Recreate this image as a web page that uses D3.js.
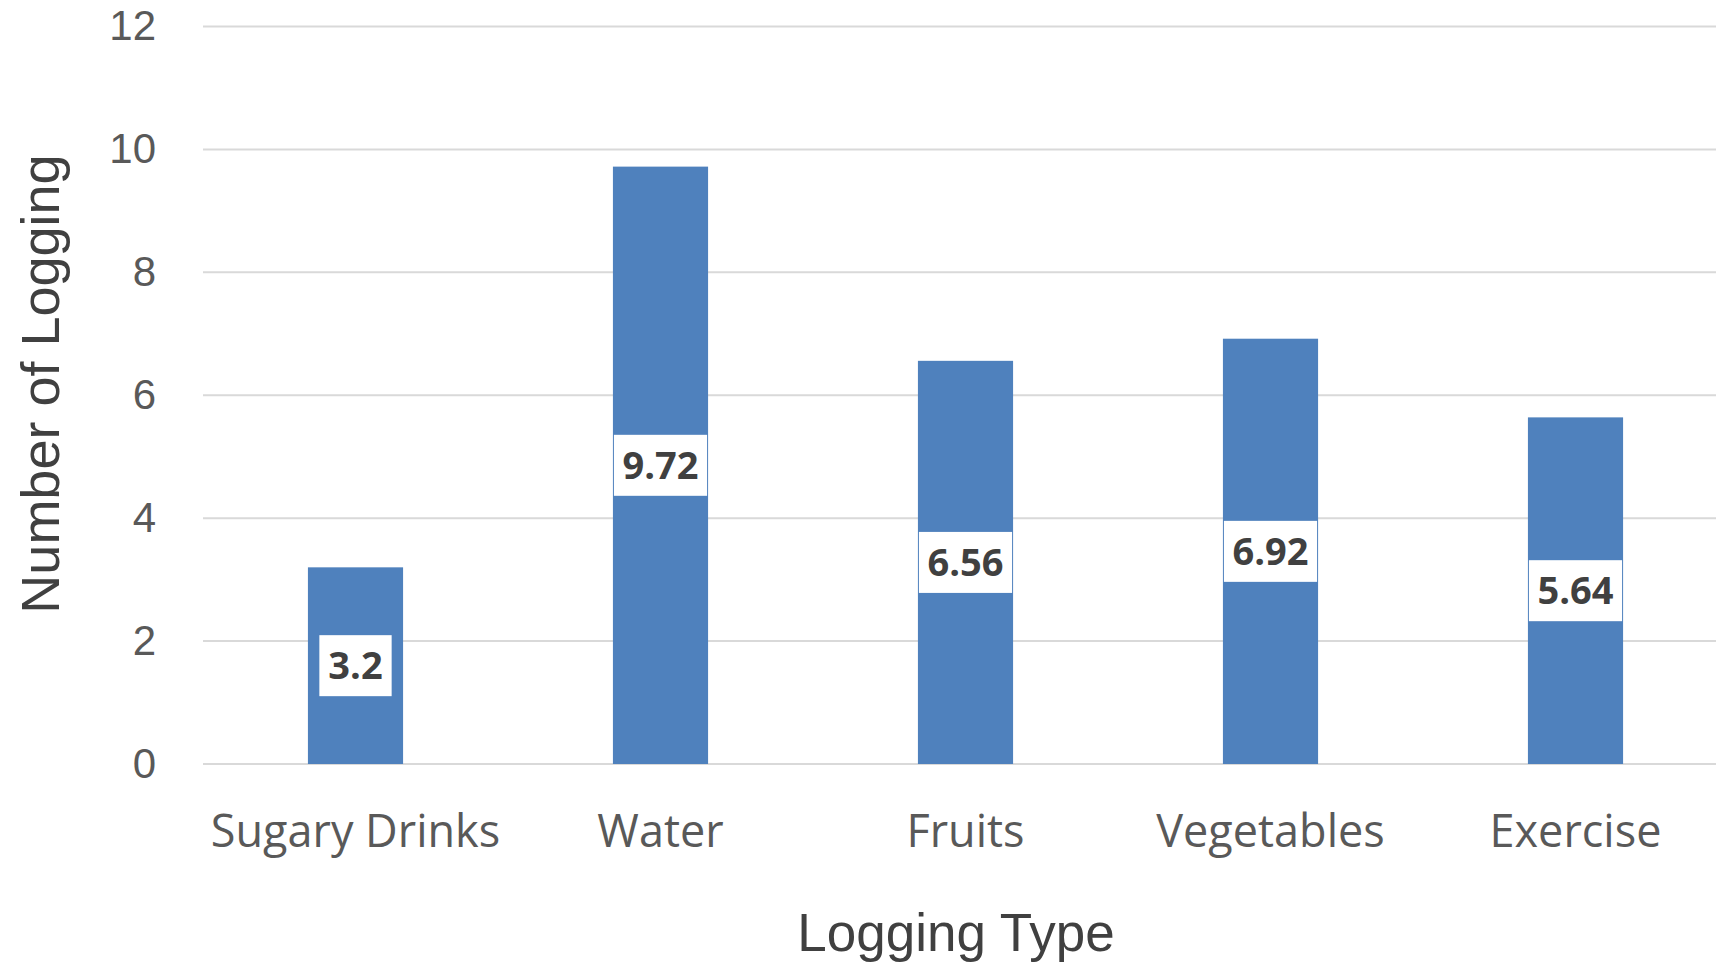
<!DOCTYPE html>
<html>
<head>
<meta charset="utf-8">
<script src="https://cdn.jsdelivr.net/npm/d3@7"></script>
<style>
  html, body { margin: 0; padding: 0; background: #fff; }
  svg { display: block; }
</style>
</head>
<body>
<svg id="chart" width="1716" height="962"></svg>
<script>
const categories = ["Sugary Drinks", "Water", "Fruits", "Vegetables", "Exercise"];
const values = [3.2, 9.72, 6.56, 6.92, 5.64];
const yTicks = [0, 2, 4, 6, 8, 10, 12];

const width = 1716;
const height = 962;
const margin = { top: 26.5, left: 203, bottom: 198 };

const svg = d3.select("#chart");

const x = d3
  .scaleBand()
  .domain(categories)
  .range([margin.left, margin.left + 305 * categories.length])
  .paddingInner(0.688)
  .paddingOuter(0.344);

const y = d3
  .scaleLinear()
  .domain([0, 12])
  .range([height - margin.bottom, margin.top]);

// gridlines
svg
  .append("g")
  .selectAll("line")
  .data(yTicks)
  .join("line")
  .attr("x1", margin.left)
  .attr("x2", width)
  .attr("y1", (d) => y(d))
  .attr("y2", (d) => y(d))
  .attr("stroke", "#d9d9d9")
  .attr("stroke-width", 2);

// y axis labels
const yAxis = svg
  .append("g")
  .attr("transform", `translate(156,0)`)
  .call(d3.axisLeft(y).tickValues(yTicks).tickSize(0).tickPadding(0));
yAxis.select(".domain").remove();
yAxis
  .selectAll("text")
  .attr("fill", "#595959")
  .style("font-family", "Liberation Sans")
  .style("font-size", "42px");

// bars
svg
  .append("g")
  .selectAll("rect")
  .data(values)
  .join("rect")
  .attr("x", (d, i) => x(categories[i]))
  .attr("y", (d) => y(d))
  .attr("width", x.bandwidth())
  .attr("height", (d) => y(0) - y(d))
  .attr("fill", "#4f81bd");

// data labels centred in the bars
const labels = svg
  .append("g")
  .selectAll("g")
  .data(values)
  .join("g")
  .attr(
    "transform",
    (d, i) => `translate(${x(categories[i]) + x.bandwidth() / 2},${y(d / 2)})`
  );

labels.append("rect").attr("class", "box").attr("fill", "#fff");

labels
  .append("text")
  .text((d) => d)
  .attr("text-anchor", "middle")
  .attr("dy", "0.36em")
  .attr("fill", "#404040")
  .style("font-family", "Open Sans")
  .style("font-weight", "bold")
  .style("font-size", "38px")
  .each(function () {
    const w = this.getComputedTextLength();
    const boxW = Math.min(w + 18, x.bandwidth() - 2);
    d3.select(this.parentNode)
      .select("rect.box")
      .attr("x", -boxW / 2)
      .attr("y", -30.5)
      .attr("width", boxW)
      .attr("height", 61);
  });

// category labels
svg
  .append("g")
  .selectAll("text")
  .data(categories)
  .join("text")
  .text((d) => d)
  .attr("x", (d) => x(d) + x.bandwidth() / 2)
  .attr("y", 847)
  .attr("text-anchor", "middle")
  .attr("fill", "#595959")
  .style("font-family", "Open Sans")
  .style("font-size", "45px");

// axis titles
svg
  .append("text")
  .text("Logging Type")
  .attr("x", 956)
  .attr("y", 951)
  .attr("text-anchor", "middle")
  .attr("fill", "#404040")
  .style("font-family", "Liberation Sans")
  .style("font-size", "53px");

svg
  .append("text")
  .text("Number of Logging")
  .attr("transform", "translate(59,384) rotate(-90)")
  .attr("text-anchor", "middle")
  .attr("fill", "#404040")
  .style("font-family", "Liberation Sans")
  .style("font-size", "54px");
</script>
</body>
</html>
